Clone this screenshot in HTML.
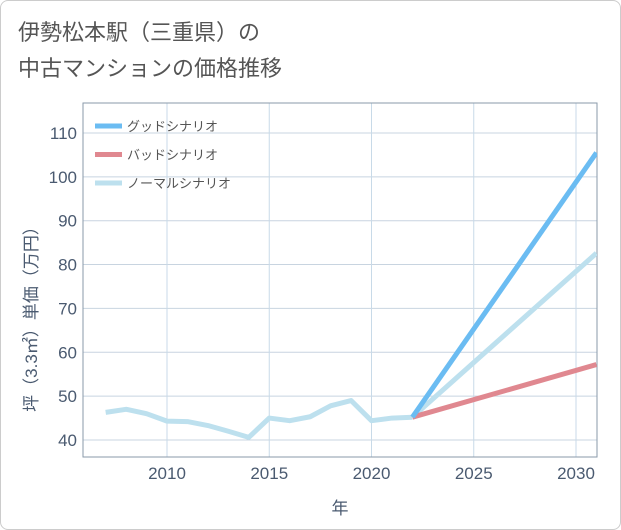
<!DOCTYPE html>
<html><head><meta charset="utf-8"><style>
body{margin:0;background:#fff}
#wrap{position:relative;width:619px;height:528px;border:1px solid #ccc;border-radius:8px;overflow:hidden;background:#fff;font-family:"Liberation Sans","Noto Sans CJK JP",sans-serif}
</style></head><body>
<div id="wrap">
<svg id="chart" width="621" height="530" style="position:absolute;left:-1px;top:-1px"></svg>
</div>
<script>
const years=[2007,2008,2009,2010,2011,2012,2013,2014,2015,2016,2017,2018,2019,2020,2021,2022];
const history=[46.3,47,46,44.3,44.2,43.3,42,40.6,45,44.4,45.3,47.8,49,44.4,45,45.2];
const scenYears=[2022,2031];
const good=[45.2,105.5];
const bad=[45.2,57.2];
const normal=[45.2,82.6];
const xTicks=[2010,2015,2020,2025,2030];
const yTicks=[40,50,60,70,80,90,100,110];
const legendLabels=["グッドシナリオ","バッドシナリオ","ノーマルシナリオ"];
const colors=["#6bbcf2","#e08890","#bde0ee"];
const L=83,R=597,T=103,B=457;
const x=v=>167+(v-2010)*20.45;
const y=v=>440-(v-40)*4.386;
const svg=document.getElementById('chart');
const NS='http://www.w3.org/2000/svg';
function mk(t,a,p){const e=document.createElementNS(NS,t);for(const k in a)e.setAttribute(k,a[k]);(p||svg).appendChild(e);return e;}
function txt(s,a){const e=mk('text',a);e.textContent=s;return e;}
const title1=txt('伊勢松本駅（三重県）の',{x:18,y:40,'font-size':22,fill:'#555'});


const title2=txt('中古マンションの価格推移',{x:18,y:76,'font-size':22,fill:'#555'});


for(const t of yTicks){
 const g=mk('line',{x1:L,x2:R,y1:y(t),y2:y(t),stroke:'#c8d4e0','stroke-width':1});
 
 
 const l=txt(t,{x:L-6,y:y(t)+6,'text-anchor':'end','font-size':17,fill:'#4a5a70'});
 
 
}
for(const t of xTicks){
 const g=mk('line',{x1:x(t),x2:x(t),y1:T,y2:B,stroke:'#c8dae8','stroke-width':1});
 
 
 const l=txt(t,{x:x(t),y:B+22,'text-anchor':'middle','font-size':17,fill:'#4a5a70'});
 
 
}
const frame=mk('rect',{x:L,y:T,width:R-L,height:B-T,fill:'none',stroke:'#8a9aaa','stroke-width':1});


const clip=mk('clipPath',{id:'c'});mk('rect',{x:L,y:T,width:R-L,height:B-T},clip);
function line(xs,ys,c,name){
 const p=mk('polyline',{points:xs.map((v,i)=>x(v)+','+y(ys[i])).join(' '),fill:'none',stroke:c,'stroke-width':5,'stroke-linejoin':'round','clip-path':'url(#c)'});
 
 
}
line(years,history,colors[2],'history-line');
line(scenYears,normal,colors[2],'normal-scenario-line');
line(scenYears,bad,colors[1],'bad-scenario-line');
line(scenYears,good,colors[0],'good-scenario-line');
legendLabels.forEach((s,i)=>{
 const yy=126+i*28.5;
 const sw=mk('line',{x1:95,x2:122,y1:yy,y2:yy,stroke:colors[i],'stroke-width':5});
 
 
 const t=txt(s,{x:127,y:yy+5,'font-size':13,fill:'#555'});
 
 
});
const xt=txt('年',{x:340,y:514,'text-anchor':'middle','font-size':17,fill:'#4a5a70'});


const yt=txt('坪（3.3㎡）単価（万円）',{x:0,y:0,'text-anchor':'middle','font-size':17,fill:'#4a5a70',transform:'translate(37,315) rotate(-90)'});


</script>
</body></html>
